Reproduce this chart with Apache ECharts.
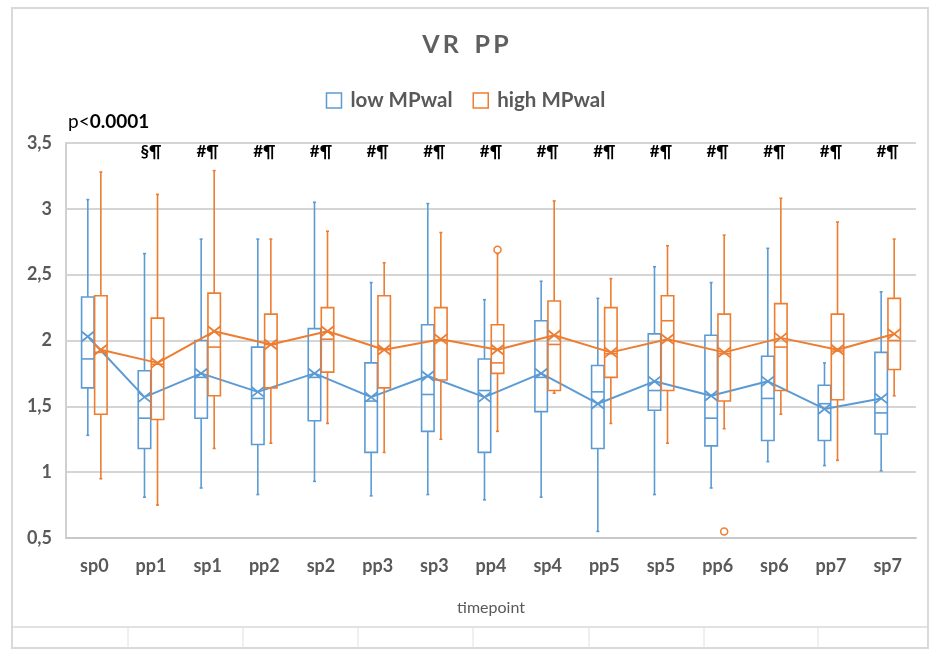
<!DOCTYPE html>
<html><head><meta charset="utf-8">
<script src="https://cdn.jsdelivr.net/npm/echarts@6/dist/echarts.min.js"></script>
<style>html,body{margin:0;padding:0;background:#fff}#c{width:931px;height:649px}</style>
</head><body><div id="c"></div>
<script>
const categories = ['sp0','pp1','sp1','pp2','sp2','pp3','sp3','pp4','sp4','pp5','sp5','pp6','sp6','pp7','sp7'];
const annotations = ['','§¶','#¶','#¶','#¶','#¶','#¶','#¶','#¶','#¶','#¶','#¶','#¶','#¶','#¶'];
const yTicks = [0.5, 1, 1.5, 2, 2.5, 3, 3.5];

const lowMin    = [1.28,0.81,0.88,0.83,0.93,0.82,0.83,0.79,0.81,0.55,0.83,0.88,1.08,1.05,1.01];
const lowQ1     = [1.64,1.18,1.41,1.21,1.39,1.15,1.31,1.15,1.46,1.18,1.47,1.20,1.24,1.24,1.29];
const lowMedian = [1.86,1.41,1.72,1.56,1.72,1.54,1.59,1.62,1.72,1.61,1.62,1.41,1.56,1.52,1.45];
const lowQ3     = [2.33,1.77,2.00,1.95,2.09,1.83,2.12,1.86,2.15,1.81,2.05,2.04,1.88,1.66,1.91];
const lowMax    = [3.07,2.66,2.77,2.77,3.05,2.44,3.04,2.31,2.45,2.32,2.56,2.44,2.70,1.83,2.37];
const lowMean   = [2.03,1.57,1.75,1.61,1.75,1.57,1.73,1.57,1.75,1.52,1.69,1.58,1.69,1.48,1.56];

const highMin    = [0.95,0.75,1.18,1.22,1.37,1.15,1.25,1.31,1.60,1.37,1.22,1.33,1.44,1.09,1.58];
const highQ1     = [1.44,1.40,1.58,1.64,1.76,1.64,1.70,1.75,1.62,1.72,1.62,1.54,1.62,1.55,1.78];
const highMedian = [1.91,1.82,1.95,1.97,2.01,1.93,2.00,1.83,1.97,1.90,2.15,1.90,1.95,1.92,2.00];
const highQ3     = [2.34,2.17,2.36,2.20,2.25,2.34,2.25,2.12,2.30,2.25,2.34,2.20,2.28,2.20,2.32];
const highMax    = [3.28,3.11,3.29,2.77,2.83,2.59,2.82,2.66,3.06,2.47,2.72,2.80,3.08,2.90,2.77];
const highMean   = [1.93,1.83,2.07,1.97,2.07,1.93,2.01,1.93,2.04,1.91,2.01,1.91,2.02,1.93,2.05];
const highOutliers = [[7, 2.69], [11, 0.55]];
const lowOutliers = [];

const BLUE = '#5B9BD5', ORANGE = '#ED7D31';
const FONT = 'Lato, "Open Sans", sans-serif';

function buildData(mn, q1, md, q3, mx, mean) {
  return categories.map((c, i) => [i, mn[i], q1[i], md[i], q3[i], mx[i], mean[i]]);
}

function boxRender(color, offFrac, means, outliers) {
  return function (params, api) {
    const i = api.value(0);
    const bw = api.size([1, 0])[0];
    const off = bw * offFrac;
    const w = bw * 0.22;
    const x = api.coord([i, 0])[0] + off;
    const y = v => api.coord([i, v])[1];
    const yMin = y(api.value(1)), yQ1 = y(api.value(2)), yMed = y(api.value(3)),
          yQ3 = y(api.value(4)), yMax = y(api.value(5)), yMean = y(api.value(6));
    const st = { stroke: color, lineWidth: 1.6, fill: null };
    const ch = [];
    if (i > 0) {
      const p = api.coord([i - 1, means[i - 1]]);
      ch.push({ type: 'line', shape: { x1: p[0] + off, y1: p[1], x2: x, y2: yMean }, style: { stroke: color, lineWidth: 2 } });
    }
    ch.push({ type: 'rect', shape: { x: x - w / 2, y: yQ3, width: w, height: yQ1 - yQ3 }, style: st });
    ch.push({ type: 'line', shape: { x1: x - w / 2, y1: yMed, x2: x + w / 2, y2: yMed }, style: st });
    ch.push({ type: 'line', shape: { x1: x, y1: yQ3, x2: x, y2: yMax }, style: st });
    ch.push({ type: 'line', shape: { x1: x, y1: yQ1, x2: x, y2: yMin }, style: st });
    ch.push({ type: 'line', shape: { x1: x - 1.5, y1: yMax, x2: x + 1.5, y2: yMax }, style: st });
    ch.push({ type: 'line', shape: { x1: x - 1.5, y1: yMin, x2: x + 1.5, y2: yMin }, style: st });
    const h = w / 2;
    ch.push({ type: 'line', shape: { x1: x - h, y1: yMean - h * 0.8, x2: x + h, y2: yMean + h * 0.8 }, style: { stroke: color, lineWidth: 1.8 } });
    ch.push({ type: 'line', shape: { x1: x - h, y1: yMean + h * 0.8, x2: x + h, y2: yMean - h * 0.8 }, style: { stroke: color, lineWidth: 1.8 } });
    outliers.filter(o => o[0] === i).forEach(o => {
      ch.push({ type: 'circle', shape: { cx: x, cy: y(o[1]), r: 3.5 }, style: { stroke: color, lineWidth: 1.5, fill: '#fff' } });
    });
    return { type: 'group', children: ch };
  };
}

const chart = echarts.init(document.getElementById('c'), null, { renderer: 'canvas' });
const option = {
  backgroundColor: '#fff',
  animation: false,
  title: {
    text: 'V\u2009R\u2002\u2009P\u2009P', left: 'center', top: 27,
    textStyle: { fontFamily: FONT, fontSize: 25, fontWeight: 'bold', color: '#5f5f5f' }
  },
  legend: {
    top: 85, left: 'center', itemGap: 20, itemWidth: 15, itemHeight: 15,
    textStyle: { fontFamily: FONT, fontSize: 20.5, fontWeight: 'bold', color: '#595959', padding: [0, 0, 0, 4] },
    data: [
      { name: 'low MPwal', icon: 'rect', itemStyle: { color: '#fff', borderColor: BLUE, borderWidth: 1.5 } },
      { name: 'high MPwal', icon: 'rect', itemStyle: { color: '#fff', borderColor: ORANGE, borderWidth: 1.5 } }
    ]
  },
  grid: { left: 66, right: 15, top: 143, bottom: 111, containLabel: false },
  xAxis: {
    type: 'category', data: categories, boundaryGap: true,
    axisLine: { lineStyle: { color: '#c8c8c8', width: 2 } },
    axisTick: { show: false },
    axisLabel: { fontFamily: FONT, fontSize: 18, fontWeight: 'bold', color: '#595959', margin: 19 },
    name: 'timepoint', nameLocation: 'middle', nameGap: 62,
    nameTextStyle: { fontFamily: FONT, fontSize: 16, color: '#595959' }
  },
  yAxis: {
    type: 'value', min: 0.5, max: 3.5, interval: 0.5,
    axisLine: { show: true, lineStyle: { color: '#d0d0d0', width: 2 } },
    axisTick: { show: false },
    splitLine: { lineStyle: { color: '#d5d5d5', width: 2 } },
    axisLabel: {
      fontFamily: FONT, fontSize: 18, fontWeight: 'bold', color: '#595959', margin: 14,
      formatter: v => String(yTicks.find(t => Math.abs(t - v) < 1e-9) ?? v).replace('.', ',')
    }
  },
  graphic: [
    { type: 'rect', shape: { x: 12, y: 8, width: 916, height: 640 }, style: { stroke: '#d9d9d9', lineWidth: 2, fill: null }, silent: true },
    { type: 'line', shape: { x1: 12, y1: 627, x2: 928, y2: 627 }, style: { stroke: '#d9d9d9', lineWidth: 1.5 }, silent: true },
    ...[128, 243, 358, 473, 589, 704, 818].map(px => ({ type: 'line', shape: { x1: px, y1: 627, x2: px, y2: 648 }, style: { stroke: '#e0e0e0', lineWidth: 1 }, silent: true })),
    {
      type: 'text', left: 68, top: 112, silent: true,
      style: {
        text: '{a|p<}{b|0.0001}',
        rich: {
          a: { fontFamily: FONT, fontSize: 19, color: '#000' },
          b: { fontFamily: FONT, fontSize: 19, fontWeight: 'bold', color: '#000' }
        }
      }
    }
  ],
  series: [
    {
      name: 'low MPwal', type: 'custom', clip: false, z: 3,
      itemStyle: { color: BLUE },
      renderItem: boxRender(BLUE, -0.115, lowMean, lowOutliers),
      encode: { x: 0, y: [1, 2, 3, 4, 5, 6] },
      data: buildData(lowMin, lowQ1, lowMedian, lowQ3, lowMax, lowMean)
    },
    {
      name: 'high MPwal', type: 'custom', clip: false, z: 4,
      itemStyle: { color: ORANGE },
      renderItem: boxRender(ORANGE, 0.115, highMean, highOutliers),
      encode: { x: 0, y: [1, 2, 3, 4, 5, 6] },
      data: buildData(highMin, highQ1, highMedian, highQ3, highMax, highMean)
    },
    {
      name: 'annotations', type: 'custom', clip: false, silent: true, z: 5,
      renderItem: function (params, api) {
        const i = api.value(0);
        const p = api.coord([i, 3.5]);
        return {
          type: 'text', x: p[0], y: p[1] + 9,
          style: { text: annotations[i], fontFamily: FONT, fontSize: 17, fontWeight: 'bold', fill: '#000', align: 'center', verticalAlign: 'middle' }
        };
      },
      data: categories.map((c, i) => [i, 3.5])
    }
  ]
};
chart.setOption(option);
</script></body></html>
